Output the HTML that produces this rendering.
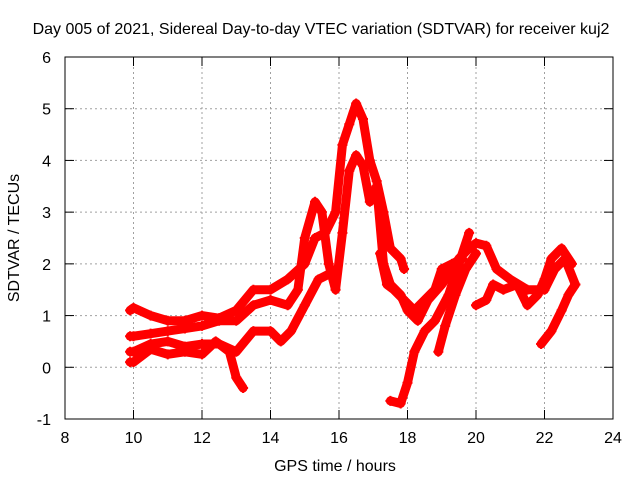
<!DOCTYPE html>
<html><head><meta charset="utf-8"><style>
body{margin:0;background:#fff;}
svg text{font-family:"Liberation Sans",sans-serif;font-size:16px;fill:#000;}
</style></head><body>
<svg width="640" height="480" id="chart">
<rect width="640" height="480" fill="#fff"/>
<text x="321" y="34" text-anchor="middle">Day 005 of 2021, Sidereal Day-to-day VTEC variation (SDTVAR) for receiver kuj2</text>
<g id="grid"></g>
<g id="series"></g>
<rect x="65" y="57" width="548" height="362" fill="none" stroke="#000" stroke-width="1"/>
<g id="ticks"></g>
<text x="335" y="471" text-anchor="middle">GPS time / hours</text>
<text transform="translate(19,238) rotate(-90)" text-anchor="middle">SDTVAR / TECUs</text>
</svg>
<script>
const xTicks=[8,10,12,14,16,18,20,22,24];
const yTicks=[-1,0,1,2,3,4,5,6];
const s1T=[9.9,10,10.5,11,11.5,12,12.5,13,13.5,14,14.5,15,15.3,15.6,15.9,16.1,16.3,16.5,16.7,16.9,17.1,17.3,17.5,17.8,17.9];
const s1V=[1.1,1.15,1.0,0.9,0.9,1.0,0.95,1.1,1.5,1.5,1.7,2.0,2.5,2.6,3.0,4.3,4.7,5.1,4.8,4.0,3.6,3.0,2.3,2.1,1.9];
const s2T=[9.9,10,10.5,11,11.5,12,12.5,13,13.5,14,14.5,14.8,15,15.3,15.5,15.7,15.9,16.1,16.3,16.5,16.7,16.9,17.1,17.3,17.5,17.8,18,18.3,18.6,19,19.5,19.8,20,20.3,20.6,21,21.5,22,22.3,22.6,22.9];
const s2V=[0.6,0.6,0.65,0.7,0.75,0.8,0.9,0.9,1.2,1.3,1.2,1.5,2.5,3.2,3.0,2.0,1.5,2.6,3.8,4.1,3.9,3.2,3.5,2.0,1.6,1.4,1.1,0.9,1.3,1.6,2.1,2.3,2.4,2.35,1.9,1.7,1.5,1.5,1.9,2.1,1.6];
const s3T=[9.9,10,10.5,11,11.5,12,12.5,13,13.5,14,14.3,14.6,15,15.4,15.7];
const s3V=[0.3,0.3,0.45,0.5,0.4,0.45,0.45,0.3,0.7,0.7,0.5,0.7,1.2,1.7,1.8];
const s4T=[9.9,10,10.5,11,11.5,12,12.4,12.8,13,13.2];
const s4V=[0.1,0.1,0.35,0.25,0.3,0.25,0.5,0.3,-0.2,-0.4];
const s5T=[17.2,17.4,17.6,17.9,18.2,18.5,18.8,19,19.3,19.6];
const s5V=[2.2,1.6,1.5,1.3,1.1,1.3,1.5,1.9,2.0,2.1];
const s6T=[17.5,17.8,18,18.2,18.5,18.8,19.2,19.5,19.8];
const s6V=[-0.65,-0.7,-0.3,0.3,0.7,0.9,1.4,2.0,2.6];
const s7T=[18.9,19.1,19.4,19.7,20];
const s7V=[0.3,0.8,1.4,1.9,2.2];
const s8T=[21.9,22.2,22.5,22.7,22.9];
const s8V=[0.45,0.7,1.1,1.4,1.6];
const s9T=[20,20.3,20.5,20.8,21.2,21.5,21.8,22,22.2,22.5,22.8];
const s9V=[1.2,1.3,1.6,1.5,1.6,1.2,1.4,1.7,2.1,2.3,2.0];
const seriesT=[s1T,s2T,s3T,s4T,s5T,s6T,s7T,s8T,s9T];
const seriesV=[s1V,s2V,s3V,s4V,s5V,s6V,s7V,s8V,s9V];
const X=t=>65+(t-8)*548/16;
const Y=v=>419-(v+1)*362/7;
const NS="http://www.w3.org/2000/svg";
const grid=document.getElementById('grid'),ticks=document.getElementById('ticks'),ser=document.getElementById('series');
function mk(tag,attrs,parent){const e=document.createElementNS(NS,tag);for(const k in attrs)e.setAttribute(k,attrs[k]);parent.appendChild(e);return e;}
xTicks.forEach(t=>{
 if(t>8&&t<24){const g=mk('line',{x1:X(t),x2:X(t),y1:57,y2:419,stroke:'#a0a0a0','stroke-dasharray':'2,3'},grid);
 
 }
 mk('line',{x1:X(t),x2:X(t),y1:419,y2:410,stroke:'#000'},ticks);
 mk('line',{x1:X(t),x2:X(t),y1:57,y2:66,stroke:'#000'},ticks);
 const l=mk('text',{x:X(t),y:443,'text-anchor':'middle'},ticks);l.textContent=t;
 
 
});
yTicks.forEach(v=>{
 if(v>-1&&v<6){const g=mk('line',{x1:65,x2:613,y1:Y(v),y2:Y(v),stroke:'#a0a0a0','stroke-dasharray':'2,3'},grid);
 
 }
 mk('line',{x1:65,x2:74,y1:Y(v),y2:Y(v),stroke:'#000'},ticks);
 mk('line',{x1:604,x2:613,y1:Y(v),y2:Y(v),stroke:'#000'},ticks);
 const l=mk('text',{x:51,y:Y(v)+6,'text-anchor':'end'},ticks);l.textContent=v;
 
 
});
seriesT.forEach((ts,i)=>{
 const vs=seriesV[i];
 const pts=ts.map((t,j)=>X(t)+','+Y(vs[j])).join(' ');
 const pl=mk('polyline',{points:pts,fill:'none',stroke:'#ff0000','stroke-width':9,'stroke-linejoin':'round','stroke-linecap':'round'},ser);
 
 
 ts.forEach((t,j)=>{
  const p=mk('path',{d:`M${X(t)-5},${Y(vs[j])}h10M${X(t)},${Y(vs[j])-5}v10`,stroke:'#ff0000','stroke-width':2},ser);
  
  
 });
});
</script>
</body></html>
